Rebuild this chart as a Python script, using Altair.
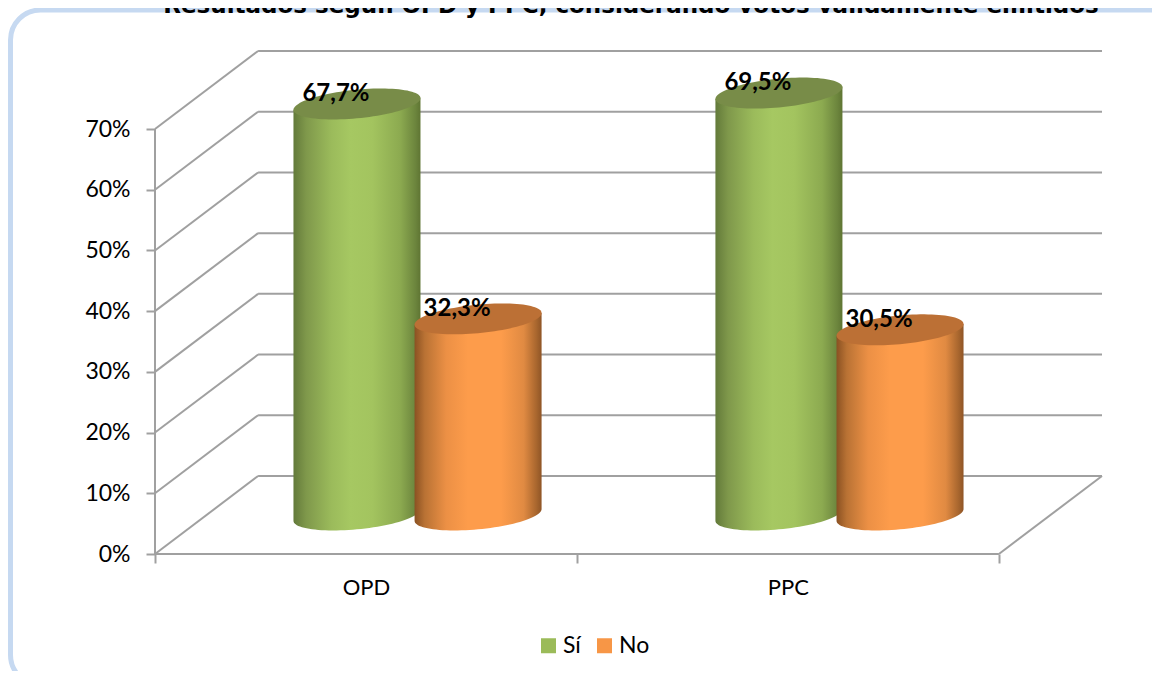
import math
import altair as alt
import pandas as pd

categories = ["OPD", "PPC"]
series = ["Sí", "No"]
si_values = [0.677, 0.695]
no_values = [0.323, 0.305]
si_labels = ["67,7%", "69,5%"]
no_labels = ["32,3%", "30,5%"]
ticks = [0, 0.1, 0.2, 0.3, 0.4, 0.5, 0.6, 0.7]
title_text = "Resultados según OPD y PPC, considerando votos válidamente emitidos"

DEPTH_X = 0.2443
DEPTH_Y = 0.1285
X_MAX = 2 + DEPTH_X
Y_MAX = 0.7 + DEPTH_Y
OFFSET = {"Sí": -0.1435, "No": 0.1435}
RX = 0.1505
RY = 0.0255
PHI = 0.387
GRID = "#A0A0A0"
FONT = "Lato"

x_scale = alt.Scale(domain=[0, X_MAX], nice=False, zero=False)
y_scale = alt.Scale(domain=[0, Y_MAX], nice=False, zero=False)

x_axis = alt.Axis(
    values=[0, 0.5, 1, 1.5, 2],
    labelExpr=f"datum.value == 0.5 ? '{categories[0]}' : datum.value == 1.5 ? '{categories[1]}' : ''",
    tickOpacity=alt.condition("datum.value % 1 == 0", alt.value(1), alt.value(0)),
    domain=False, grid=False, tickSize=9, tickWidth=2, tickColor=GRID,
    labelFontSize=22, labelFont=FONT, labelColor="#000000", labelPadding=14,
    labelFlush=False, labelOverlap=False, labelAngle=0,
)
y_axis = alt.Axis(
    values=ticks, format=".0%",
    domain=False, grid=False, tickSize=9, tickWidth=2, tickColor=GRID,
    labelFontSize=23, labelFont=FONT, labelColor="#000000", labelPadding=16,
    labelOverlap=False,
)


def X(field="x"):
    return alt.X(field, type="quantitative", scale=x_scale, axis=x_axis, title=None)


def Y(field="y"):
    return alt.Y(field, type="quantitative", scale=y_scale, axis=y_axis, title=None)


# walls, floor and axis lines
segments = []
for t in ticks:
    segments.append(dict(x=0, y=t, x2=DEPTH_X, y2=t + DEPTH_Y))
    segments.append(dict(x=DEPTH_X, y=t + DEPTH_Y, x2=X_MAX, y2=t + DEPTH_Y))
segments.append(dict(x=0, y=0, x2=0, y2=0.7))
segments.append(dict(x=0, y=0, x2=2, y2=0))
segments.append(dict(x=2, y=0, x2=X_MAX, y2=DEPTH_Y))

walls = alt.Chart(pd.DataFrame(segments)).mark_rule(color=GRID, strokeWidth=2).encode(
    x=X("x"), y=Y("y"),
    x2=alt.X2("x2"), y2=alt.Y2("y2"),
)


def cylinder_frames(values, name):
    body, cap = [], []
    steps = 48
    for i, v in enumerate(values):
        cx = i + 0.5 + OFFSET[name] + DEPTH_X / 2
        for k in range(steps + 1):
            s = math.pi * k / steps
            x = cx + RX * math.cos(s)
            up = RY * math.sin(s) * math.cos(PHI)
            mid = RY * math.cos(s) * math.sin(PHI)
            base = DEPTH_Y / 2
            top = v + DEPTH_Y / 2
            body.append(dict(id=i, x=x, y=top + mid, y2=base + mid - up))
            cap.append(dict(id=i, x=x, y=top + mid + up, y2=top + mid - up))
    return pd.DataFrame(body), pd.DataFrame(cap)


def gradient(stops):
    return alt.Gradient(
        gradient="linear", x1=0, x2=1, y1=0, y2=0,
        stops=[alt.GradientStop(offset=o, color=c) for o, c in stops],
    )


green = gradient([(0, "#637A3A"), (0.1, "#7F984B"), (0.3, "#9BBB5B"), (0.45, "#A6C862"),
                  (0.62, "#A3C45F"), (0.84, "#8CAA50"), (0.96, "#6C853D"), (1, "#5F7533")])
orange = gradient([(0, "#8A5122"), (0.08, "#B97234"), (0.25, "#EC9045"), (0.42, "#FD9C4B"),
                   (0.68, "#FD9C4B"), (0.86, "#E08A42"), (0.96, "#A8662E"), (1, "#8F5526")])


def cylinder_layers(values, name, fill, cap_color):
    body_df, cap_df = cylinder_frames(values, name)
    body = alt.Chart(body_df).mark_area(color=fill).encode(
        x=X(), y=Y(), y2=alt.Y2("y2"), detail="id:N")
    cap = alt.Chart(cap_df).mark_area(color=cap_color).encode(
        x=X(), y=Y(), y2=alt.Y2("y2"), detail="id:N")
    return [body, cap]


label_rows = []
for name, values, labels in (("Sí", si_values, si_labels), ("No", no_values, no_labels)):
    for i, (v, t) in enumerate(zip(values, labels)):
        label_rows.append(dict(x=i + 0.5 + OFFSET[name] + DEPTH_X / 2, y=v + DEPTH_Y / 2, label=t))

value_labels = alt.Chart(pd.DataFrame(label_rows)).mark_text(
    font=FONT, fontSize=24, fontWeight="bold", color="#000000", dx=-21, dy=-10, baseline="middle"
).encode(x=X(), y=Y(), text="label:N")

legend_marks = alt.Chart(pd.DataFrame({"s": series, "x": [None, None], "y": [None, None]})).mark_square(
    opacity=1
).encode(
    x=X(), y=Y(),
    color=alt.Color(
        "s:N",
        scale=alt.Scale(domain=series, range=["#9BBB59", "#F79646"]),
        legend=alt.Legend(
            title=None, orient="none", direction="horizontal", legendX=382, legendY=583,
            symbolType="square", symbolSize=225, symbolStrokeWidth=0, symbolOpacity=1, labelFont=FONT,
            labelFontSize=23, labelColor="#000000", columnPadding=12, labelOffset=3,
        ),
    ),
)

frame = alt.Chart(pd.DataFrame({"a": [0]})).mark_rect(
    fill="transparent", stroke="#C6D9F1", strokeWidth=5, cornerRadius=30
).encode(x=alt.value(-144.5), x2=alt.value(1025), y=alt.value(-41), y2=alt.value(634))

title = alt.Chart(pd.DataFrame({"t": [title_text]})).mark_text(
    font="DejaVu Sans", fontSize=23, fontWeight="bold", color="#000000", align="center", baseline="alphabetic"
).encode(x=alt.value(476), y=alt.value(-38), text="t:N")

layers = [walls]
layers += cylinder_layers(si_values, "Sí", green, "#788C48")
layers += cylinder_layers(no_values, "No", orange, "#BC7035")
layers += [value_labels, legend_marks, frame, title]

chart = alt.layer(*layers, data=alt.Data(values=[{}])).properties(
    width=947, height=503,
    padding={"left": 147, "top": 43, "right": 50, "bottom": 117},
    autosize=alt.AutoSizeParams(type="none"),
    background="white",
).configure_view(stroke=None)

chart.save("out.html", embed_options={"renderer": "svg", "actions": False})
